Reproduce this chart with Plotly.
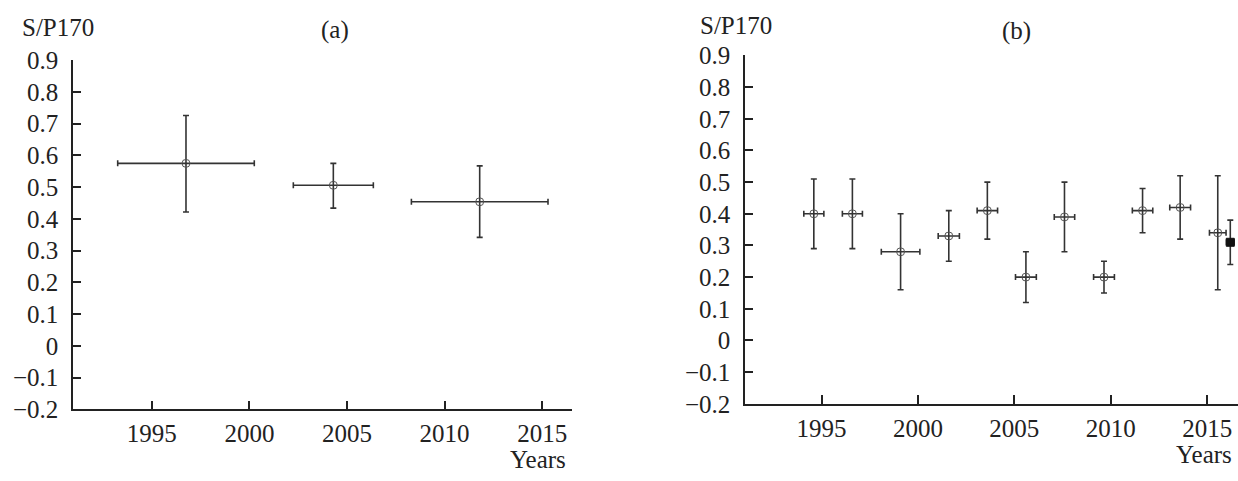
import plotly.graph_objects as go

W, H = 1238, 481

# Panel (a)
a_year = [1996.75, 2004.3, 2011.8]
a_year_err = [3.5, 2.05, 3.5]
a_val = [0.575, 0.506, 0.454]
a_err_plus = [0.151, 0.069, 0.113]
a_err_minus = [0.153, 0.072, 0.112]

# Panel (b) open circles
b_year = [1994.6, 1996.6, 1999.1, 2001.6, 2003.6, 2005.6, 2007.6, 2009.65, 2011.65, 2013.6, 2015.55]
b_year_err = [0.52, 0.52, 1.0, 0.55, 0.53, 0.54, 0.53, 0.54, 0.53, 0.54, 0.43]
b_val = [0.40, 0.40, 0.28, 0.33, 0.41, 0.20, 0.39, 0.20, 0.41, 0.42, 0.34]
b_err_plus = [0.11, 0.11, 0.12, 0.08, 0.09, 0.08, 0.11, 0.05, 0.07, 0.10, 0.18]
b_err_minus = [0.11, 0.11, 0.12, 0.08, 0.09, 0.08, 0.11, 0.05, 0.07, 0.10, 0.18]

# Panel (b) filled point
c_year = [2016.2]
c_year_err = [0.2]
c_val = [0.31]
c_err = [0.07]

y_ticks = [0.9, 0.8, 0.7, 0.6, 0.5, 0.4, 0.3, 0.2, 0.1, 0, -0.1, -0.2]
y_tick_text = ["0.9", "0.8", "0.7", "0.6", "0.5", "0.4", "0.3", "0.2", "0.1", "0", "\u22120.1", "\u22120.2"]
x_ticks = [1995, 2000, 2005, 2010, 2015]
x_tick_text = ["1995", "2000", "2005", "2010", "2015"]

FONT = "Liberation Serif, Times New Roman, serif"
FS = 25
LC = "#333333"

def px(x):
    return x / W

def py(y):
    return 1 - y / H

fig = go.Figure()

def add_err(xv, yv, xe, yp, ym, xa, ya, filled=False):
    fig.add_trace(go.Scatter(
        x=xv, y=yv, mode="markers", xaxis=xa, yaxis=ya,
        marker=dict(symbol="square" if filled else "circle-open",
                    size=8,
                    color="#111111" if filled else "#555555",
                    line=dict(width=1, color="#111111" if filled else "#555555")),
        error_x=dict(type="data", array=xe, symmetric=True, color=LC, thickness=1.6, width=3),
        error_y=dict(type="data", array=yp, arrayminus=ym, symmetric=False, color=LC, thickness=1.6, width=3),
        showlegend=False, hoverinfo="skip"))

add_err(a_year, a_val, a_year_err, a_err_plus, a_err_minus, "x", "y")
add_err(b_year, b_val, b_year_err, b_err_plus, b_err_minus, "x2", "y2")
add_err(c_year, c_val, c_year_err, c_err, c_err, "x2", "y2", filled=True)

xcommon = dict(showline=True, linecolor="#222222", linewidth=1.5, ticks="inside",
               ticklen=9, tickwidth=1.5, tickcolor="#222222", showgrid=False, zeroline=False,
               tickvals=x_ticks, ticktext=x_tick_text,
               tickfont=dict(family=FONT, size=FS, color="#222222"), ticklabelstandoff=1)
ycommon = dict(showline=True, linecolor="#222222", linewidth=1.5, ticks="inside",
               ticklen=8, tickwidth=1.5, tickcolor="#222222", showgrid=False, zeroline=False,
               tickvals=y_ticks, ticktext=y_tick_text, range=[-0.2, 0.9],
               tickfont=dict(family=FONT, size=FS, color="#222222"), ticklabelstandoff=8)

fig.update_layout(
    width=W, height=H, margin=dict(l=0, r=0, t=0, b=0),
    font=dict(family=FONT, size=FS, color="#222222"),
    paper_bgcolor="white", plot_bgcolor="white",
    xaxis=dict(domain=[px(73), px(572)], range=[1990.96, 2016.53], anchor="y", **xcommon),
    yaxis=dict(domain=[py(420), py(50)], anchor="x", **ycommon),
    xaxis2=dict(domain=[px(745), 1.0], range=[1991.03, 2016.6], anchor="y2", **xcommon),
    yaxis2=dict(domain=[py(414), py(45)], anchor="x2", **ycommon),
)

def ann(text, x, y, xanchor="center"):
    fig.add_annotation(text=text, x=px(x), y=py(y), xref="paper", yref="paper",
                       xanchor=xanchor, yanchor="middle", showarrow=False,
                       font=dict(family=FONT, size=FS, color="#222222"))

ann("S/P170", 20, 15, "left")
ann("(a)", 335, 18)
ann("Years", 568, 473, "right")
ann("S/P170", 698, 13, "left")
ann("(b)", 1016, 19)
ann("Years", 1234, 468, "right")

fig.write_html("out.html", config={"displayModeBar": False},
               post_script="document.body.style.margin='0';document.body.style.overflow='hidden';")
